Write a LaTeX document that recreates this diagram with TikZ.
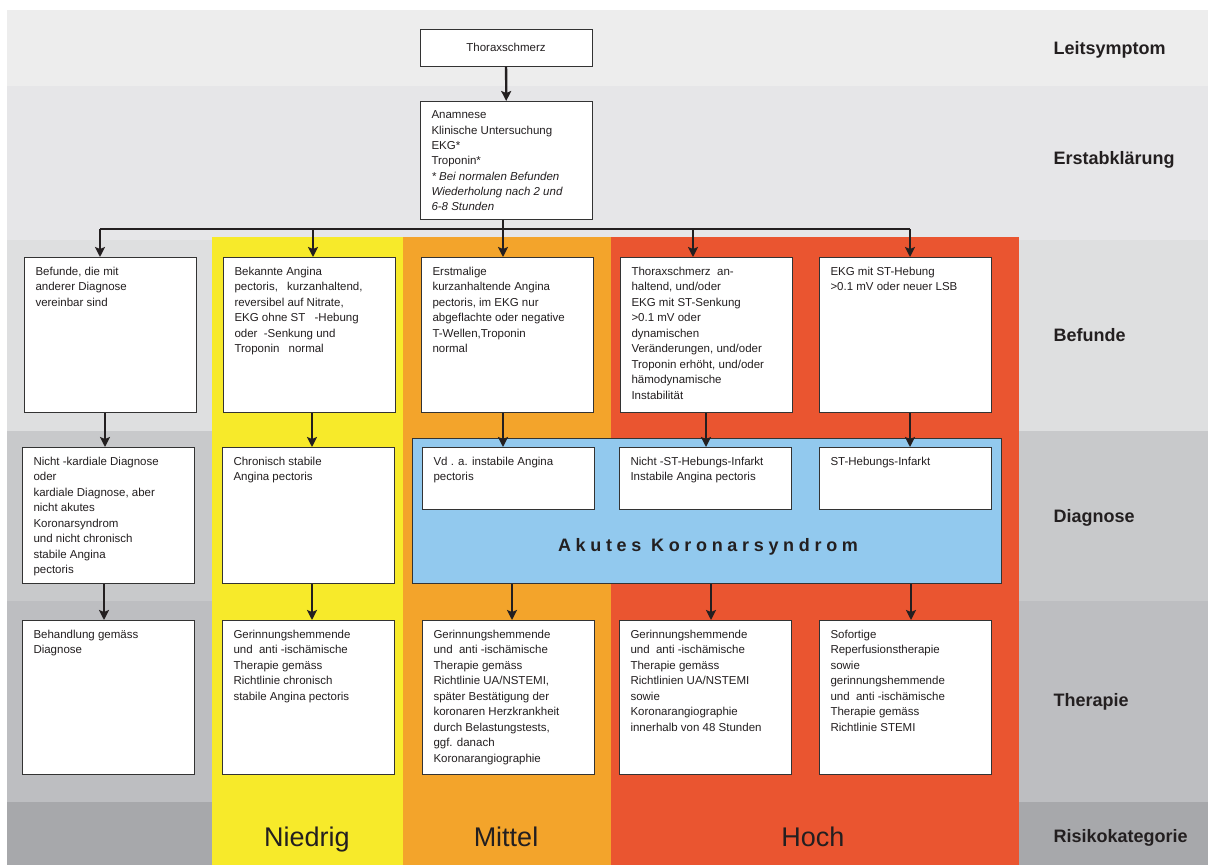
\documentclass[tikz,border=0pt]{standalone}
\usepackage{fontspec}
\setmainfont{Liberation Sans}
\usetikzlibrary{arrows.meta}

\definecolor{schrift}{HTML}{231F20}
\definecolor{rahmen}{HTML}{333333}
\definecolor{band1}{HTML}{EDEDED}
\definecolor{band2}{HTML}{E6E6E8}
\definecolor{band3}{HTML}{DEDFE0}
\definecolor{band4}{HTML}{C8C9CB}
\definecolor{band5}{HTML}{BDBEC1}
\definecolor{band6}{HTML}{A7A8AB}
\definecolor{gelb}{HTML}{F7EA2A}
\definecolor{orangeton}{HTML}{F3A42B}
\definecolor{hochrot}{HTML}{EA5530}
\definecolor{hellblau}{HTML}{92C9EE}

\tikzset{
  kasten/.style={draw=rahmen, fill=white, line width=1pt, anchor=north west,
    inner xsep=11pt, inner ysep=9.5pt, text=schrift,
    font=\fontsize{11.5}{15.5}\selectfont},
  pfeil/.style={draw=schrift, line width=2.3pt,
    -{Stealth[length=10pt,width=10pt,inset=2pt]}},
  ebene/.style={anchor=west, text=schrift, font=\fontsize{18}{20}\selectfont\bfseries},
  risiko/.style={anchor=base, text=schrift, font=\fontsize{27}{30}\selectfont}
}
\newcommand{\kastentext}[2]{\parbox[t][#1][t]{150pt}{\raggedright #2}}

\begin{document}
\begin{tikzpicture}[x=1pt, y=-1pt]
\useasboundingbox (0,0) rectangle (1208,865);

% Ebenen
\fill[band1] (7,10) rectangle (1208,86);
\fill[band2] (7,86) rectangle (1208,240);
\fill[band3] (7,240) rectangle (1208,431);
\fill[band4] (7,431) rectangle (1208,601);
\fill[band5] (7,601) rectangle (1208,802);
\fill[band6] (7,802) rectangle (1208,865);

% Risikospalten
\fill[gelb] (212,237) rectangle (403,865);
\fill[orangeton] (403,237) rectangle (611,865);
\fill[hochrot] (611,237) rectangle (1019,865);

\node[draw=rahmen, fill=hellblau, line width=1pt, anchor=north west, inner sep=0pt,
  minimum width=589pt, minimum height=145pt] (aks) at (412,438) {};
\node[text=schrift, font=\fontsize{18}{20}\selectfont\bfseries\addfontfeature{LetterSpace=26}]
  (titel) at (708,547) {Akutes Koronarsyndrom};

% Leitsymptom, Erstabklaerung
\node[kasten, minimum width=172pt, minimum height=37pt, anchor=center] (thorax) at (506,47.5) {Thoraxschmerz};
\node[kasten, font=\fontsize{11.5}{15.3}\selectfont] (anam) at (420,101) {\kastentext{99pt}{Anamnese\\
  Klinische Untersuchung\\ EKG*\\ Troponin*\\ \textit{* Bei normalen Befunden}\\
  \textit{Wiederholung nach 2 und}\\ \textit{6-8 Stunden}}};

% Befunde
\node[kasten] (bef1) at (24,257) {\kastentext{136pt}{Befunde, die mit\\ anderer Diagnose\\ vereinbar sind}};
\node[kasten] (bef2) at (223,257) {\kastentext{136pt}{Bekannte Angina\\ pectoris,\hspace{0.8em}kurzanhaltend,\\
  reversibel auf Nitrate,\\ EKG ohne ST\hspace{0.8em}-Hebung\\ oder\ \ -Senkung und\\ Troponin\hspace{0.8em}normal}};
\node[kasten] (bef3) at (421,257) {\kastentext{136pt}{Erstmalige\\ kurzanhaltende Angina\\ pectoris, im EKG nur\\
  abgeflachte oder negative\\ T-Wellen,Troponin\\ normal}};
\node[kasten] (bef4) at (620,257) {\kastentext{136pt}{Thoraxschmerz\ \ an-\\ haltend, und/oder\\ EKG mit ST-Senkung\\
  >0.1 mV oder\\ dynamischen\\ Veränderungen, und/oder\\ Troponin\ erhöht, und/oder\\ hämodynamische\\ Instabilität}};
\node[kasten] (bef5) at (819,257) {\kastentext{136pt}{EKG mit ST-Hebung\\ >0.1 mV oder neuer LSB}};

% Diagnose
\node[kasten] (diag1) at (22,447) {\kastentext{117pt}{Nicht -kardiale Diagnose\\ oder\\ kardiale Diagnose, aber\\
  nicht akutes\\ Koronarsyndrom\\ und nicht chronisch\\ stabile Angina\\ pectoris}};
\node[kasten] (diag2) at (222,447) {\kastentext{117pt}{Chronisch stabile\\ Angina pectoris}};
\node[kasten] (diag3) at (422,447) {\kastentext{43pt}{Vd . a. instabile Angina\\ pectoris}};
\node[kasten] (diag4) at (619,447) {\kastentext{43pt}{Nicht -ST-Hebungs-Infarkt\\ Instabile Angina pectoris}};
\node[kasten] (diag5) at (819,447) {\kastentext{43pt}{ST-Hebungs-Infarkt}};

% Therapie
\node[kasten] (ther1) at (22,620) {\kastentext{135pt}{Behandlung gemäss\\ Diagnose}};
\node[kasten] (ther2) at (222,620) {\kastentext{135pt}{Gerinnungshemmende\\ und\ \ anti -ischämische\\
  Therapie gemäss\\ Richtlinie chronisch\\ stabile Angina pectoris}};
\node[kasten] (ther3) at (422,620) {\kastentext{135pt}{Gerinnungshemmende\\ und\ \ anti -ischämische\\
  Therapie gemäss\\ Richtlinie UA/NSTEMI,\\ später Bestätigung der\\ koronaren Herzkrankheit\\
  durch Belastungstests,\\ ggf. danach\\ Koronarangiographie}};
\node[kasten] (ther4) at (619,620) {\kastentext{135pt}{Gerinnungshemmende\\ und\ \ anti -ischämische\\
  Therapie gemäss\\ Richtlinien UA/NSTEMI\\ sowie\\ Koronarangiographie\\ innerhalb von 48 Stunden}};
\node[kasten] (ther5) at (819,620) {\kastentext{135pt}{Sofortige\\ Reperfusionstherapie\\ sowie\\
  gerinnungshemmende\\ und\ \ anti -ischämische\\ Therapie gemäss\\ Richtlinie STEMI}};

% Verbindungen
\draw[pfeil] (thorax) -- (anam);
\coordinate (v1) at (100,229);
\coordinate (v2) at (313,229);
\coordinate (v3) at (503,229);
\coordinate (v4) at (693,229);
\coordinate (v5) at (910,229);
\draw[draw=schrift, line width=1.4pt] (v3 |- anam.south) -- (v3);
\draw[draw=schrift, line width=1.4pt] (v1) -- (v5);
\foreach \v/\b in {v1/bef1, v2/bef2, v3/bef3, v4/bef4, v5/bef5}
  \draw[pfeil] (\v) -- (\v |- \b.north);
\foreach \x/\a/\b in {105/bef1/diag1, 312/bef2/diag2, 503/bef3/diag3, 706/bef4/diag4, 910/bef5/diag5}
  \draw[pfeil] (\x,0 |- \a.south) -- (\x,0 |- \b.north);
\foreach \x/\a/\b in {104/diag1/ther1, 312/diag2/ther2, 512/aks/ther3, 711/aks/ther4, 911/aks/ther5}
  \draw[pfeil] (\x,0 |- \a.south) -- (\x,0 |- \b.north);

% Beschriftung rechts
\node[ebene] (l1) at (1050,50) {Leitsymptom};
\node[ebene] (l2) at (1050,160) {Erstabklärung};
\node[ebene] (l3) at (1050,335) {Befunde};
\node[ebene] (l4) at (1050,518) {Diagnose};
\node[ebene] (l5) at (1050,702) {Therapie};
\node[ebene] (l6) at (1050,838) {Risikokategorie};

% Risikokategorien
\node[risiko] (niedrig) at (307,846) {Niedrig};
\node[risiko] (mittel) at (506,846) {Mittel};
\node[risiko] (hoch) at (813,846) {Hoch};
\end{tikzpicture}
\end{document}
